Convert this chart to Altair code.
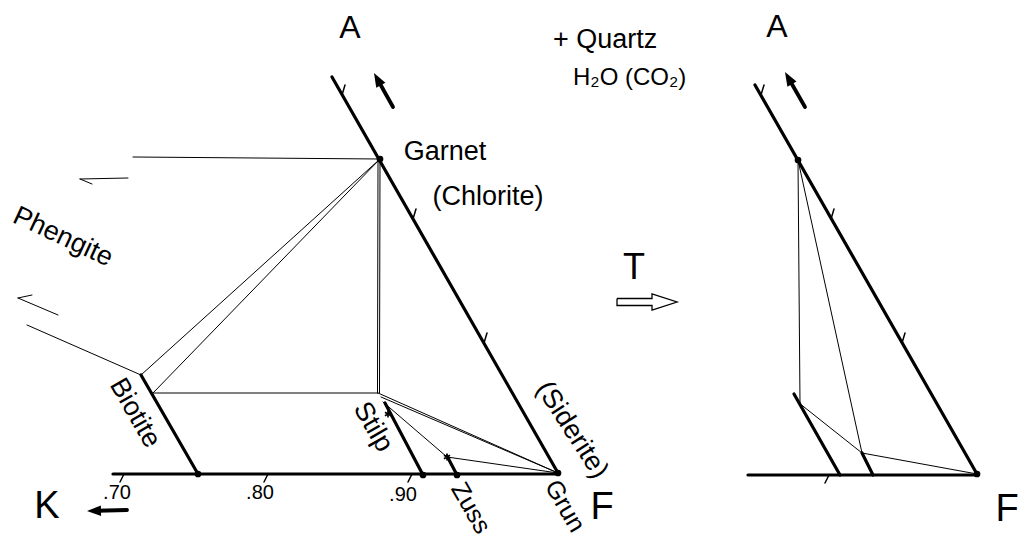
import altair as alt
import pandas as pd
import numpy as np

# ---------------- drawing coordinates (diagram units) ----------------
# Left AKF diagram, thick lines (x1, y1, x2, y2)
LEFT_THICK = [
    (332, 77, 558, 473),   # A-F edge
    (113, 474, 558, 474),  # K-F base
    (141, 375, 198, 474),  # Biotite
    (385, 403, 423, 475),  # Stilpnomelane
    (447, 456, 457, 475),  # Zussmanite
]
# Left diagram, thin tie lines
LEFT_THIN = [
    (27, 325, 141, 375),   # to Phengite
    (133, 157, 380, 159),  # Garnet - Phengite
    (380, 159, 141, 375),  # Garnet - Biotite (1)
    (380, 159, 153, 393),  # Garnet - Biotite (2)
    (153, 393, 378, 393),  # Biotite - Stilp
    (378, 160, 377.5, 393),  # Garnet - Stilp (double)
    (380, 160, 379.5, 393),
    (378, 393, 558, 473),  # Stilp - Grun (double)
    (381, 397, 558, 473),
    (383, 402, 447, 457),  # Stilp - Zuss
    (447, 457, 558, 473),  # Zuss - Grun
    (128, 178, 80, 179),   # Phengite half-arrow (upper)
    (80, 179, 92, 184),
    (58, 315, 18, 298),    # Phengite half-arrow (lower)
    (18, 298, 32, 295),
]
# Right diagram
RIGHT_THICK = [
    (755, 85, 977, 474),   # A-F edge
    (748, 475, 977, 475),  # base
    (794, 394, 840, 475),
    (862, 453, 873, 475),
]
RIGHT_THIN = [
    (798, 160, 800, 403),
    (798, 160, 862, 453),
    (799, 403, 862, 453),
    (862, 453, 977, 474),
]
# small ticks
TICKS = [
    (342, 95, 345, 85), (413, 219, 416, 209), (484, 343, 487, 333),
    (124, 474, 120, 482), (268, 474, 264, 482), (412, 474, 408, 482),
    (761, 95, 764, 85), (831, 219, 834, 209), (902, 343, 905, 333),
    (829, 475, 825, 483),
]
# phase points
DOT_X = [380, 198, 423, 457, 558, 798, 977]
DOT_Y = [159, 474, 475, 475, 473, 160, 474]
STAR_X = [388, 447]
STAR_Y = [414, 457]
# solid arrows: (tail x, tail y, tip x, tip y)
ARROWS = [(393, 107, 374, 73), (805, 107, 785, 72), (127, 510, 87, 511)]
# hollow "T" arrow outline
TARROW_X = [617, 652, 652, 677, 652, 652, 617, 617]
TARROW_Y = [298.5, 298.5, 294, 302, 310, 305.5, 305.5, 298.5]

# labels
LAB_TEXT = ["A", "A", "Garnet", "(Chlorite)", "Phengite", "Biotite", "Stilp", "(Siderite)",
            "Zuss", "Grun", "K", "F", "F", "T", ".70", ".80", ".90"]
LAB_X = [350, 777, 445, 488, 63, 135, 373, 572, 471, 565, 47, 602, 1007, 634, 117, 260, 403]
LAB_Y = [28, 27, 152, 197, 237, 413, 427, 430, 508, 506, 507, 508, 510, 268, 493, 493, 495]
LAB_ANGLE = [0, 0, 0, 0, 25, 60, 60, 57, 60, 60, 0, 0, 0, 0, 0, 0, 0]
LAB_SIZE = [32, 32, 27, 27, 27, 27, 27, 27, 25, 25, 38, 38, 38, 36, 20, 20, 20]
NOTE_TEXT = ["+ Quartz", "H\u2082O (CO\u2082)"]
NOTE_X = [553, 573]
NOTE_Y = [40, 78]
NOTE_SIZE = [27, 24]

FONT = "Liberation Sans"
XS = alt.Scale(domain=[8, 1020], nice=False, zero=False)
YS = alt.Scale(domain=[8, 538], nice=False, zero=False, reverse=True)


def seg_df(rows, w):
    a = np.array(rows, dtype=float)
    return pd.DataFrame({"x": a[:, 0], "y": a[:, 1], "x2": a[:, 2], "y2": a[:, 3], "w": w})


segs = pd.concat([
    seg_df(LEFT_THICK, 3.2), seg_df(RIGHT_THICK, 3.2),
    seg_df(LEFT_THIN, 1.0), seg_df(RIGHT_THIN, 1.0),
    seg_df(TICKS, 1.5),
    seg_df([(a[0], a[1], a[0] + 0.75 * (a[2] - a[0]), a[1] + 0.75 * (a[3] - a[1])) for a in ARROWS], 3.8),
], ignore_index=True)

rules = alt.Chart(segs).mark_rule(color="black", strokeCap="round").encode(
    x=alt.X("x:Q", scale=XS, axis=None),
    y=alt.Y("y:Q", scale=YS, axis=None),
    x2="x2:Q", y2="y2:Q",
    strokeWidth=alt.StrokeWidth("w:Q", scale=None),
)

dots = alt.Chart(pd.DataFrame({"x": DOT_X, "y": DOT_Y})).mark_circle(
    color="black", size=45, opacity=1).encode(
    x=alt.X("x:Q", scale=XS, axis=None), y=alt.Y("y:Q", scale=YS, axis=None))

stars = alt.Chart(pd.DataFrame({"x": STAR_X, "y": STAR_Y})).mark_point(
    shape="M0,-1L0,1M-0.87,-0.5L0.87,0.5M-0.87,0.5L0.87,-0.5",
    color="black", size=50, strokeWidth=1.6, filled=False, opacity=1).encode(
    x=alt.X("x:Q", scale=XS, axis=None), y=alt.Y("y:Q", scale=YS, axis=None))

# arrow heads
hx, hy, ha = [], [], []
for tx, ty, px, py in ARROWS:
    d = np.array([px - tx, py - ty], dtype=float)
    d /= np.linalg.norm(d)
    hx.append(px - 7 * d[0])
    hy.append(py - 7 * d[1])
    ha.append(float(np.degrees(np.arctan2(d[0], -d[1]))) % 360)
heads = alt.Chart(pd.DataFrame({"x": hx, "y": hy, "a": ha})).mark_point(
    shape="M0,-1L0.75,1L-0.75,1Z", filled=True, color="black", size=196, opacity=1,
    strokeWidth=0).encode(
    x=alt.X("x:Q", scale=XS, axis=None), y=alt.Y("y:Q", scale=YS, axis=None),
    angle=alt.Angle("a:Q", scale=None))

tarrow = alt.Chart(pd.DataFrame({"x": TARROW_X, "y": TARROW_Y, "o": range(len(TARROW_X))})).mark_line(
    color="black", strokeWidth=1.3).encode(
    x=alt.X("x:Q", scale=XS, axis=None), y=alt.Y("y:Q", scale=YS, axis=None), order="o:Q")

labels = alt.Chart(pd.DataFrame({"t": LAB_TEXT, "x": LAB_X, "y": LAB_Y, "a": LAB_ANGLE, "s": LAB_SIZE})).mark_text(
    font=FONT, color="black", align="center", baseline="middle").encode(
    x=alt.X("x:Q", scale=XS, axis=None), y=alt.Y("y:Q", scale=YS, axis=None),
    text="t:N", angle=alt.Angle("a:Q", scale=None), size=alt.Size("s:Q", scale=None))

notes = alt.Chart(pd.DataFrame({"t": NOTE_TEXT, "x": NOTE_X, "y": NOTE_Y, "s": NOTE_SIZE})).mark_text(
    font=FONT, color="black", align="left", baseline="middle").encode(
    x=alt.X("x:Q", scale=XS, axis=None), y=alt.Y("y:Q", scale=YS, axis=None), text="t:N",
    size=alt.Size("s:Q", scale=None))

chart = alt.layer(rules, dots, stars, heads, tarrow, labels, notes).properties(
    width=1012, height=530, padding=0, autosize="none", background="white"
).configure_view(stroke=None)

chart.save("out.html", embed_options={"renderer": "svg", "actions": False})
